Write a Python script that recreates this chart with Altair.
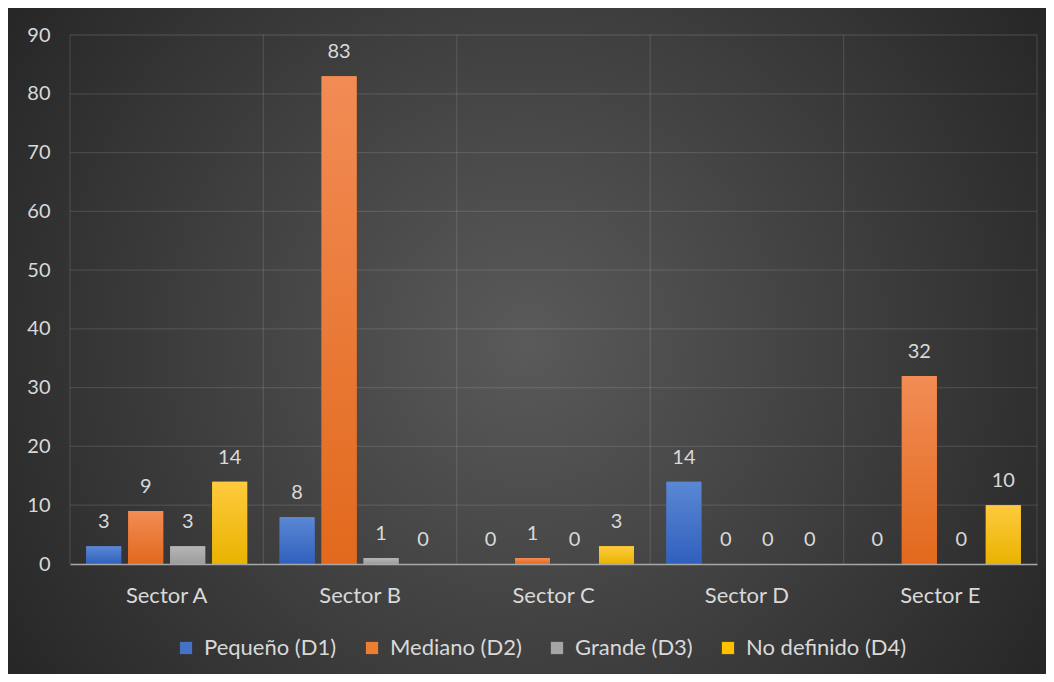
import altair as alt
import pandas as pd

categories = ["Sector A", "Sector B", "Sector C", "Sector D", "Sector E"]
series = ["Pequeño (D1)", "Mediano (D2)", "Grande (D3)", "No definido (D4)"]
d1 = [3, 8, 0, 14, 0]
d2 = [9, 83, 1, 0, 32]
d3 = [3, 1, 0, 0, 0]
d4 = [14, 0, 3, 0, 10]
y_ticks = [0, 10, 20, 30, 40, 50, 60, 70, 80, 90]

colors = ["#4472c4", "#ed7d31", "#a5a5a5", "#ffc000"]
grad_top = ["#5b88d4", "#f28c55", "#b6b6b6", "#ffca3e"]
grad_bot = ["#2f60bd", "#e2691c", "#9c9c9c", "#e9b300"]

FONT = "Lato"
TXT = "#d9d9d9"
W, H = 967, 529
L, T = 62, 27
TOTAL_W, TOTAL_H = 1038, 666

rows = []
for s, vals in zip(series, [d1, d2, d3, d4]):
    for c, v in zip(categories, vals):
        rows.append({"cat": c, "series": s, "value": v})
df = pd.DataFrame(rows)

xscale = alt.Scale(domain=categories, paddingInner=0, paddingOuter=0)
xoscale = alt.Scale(domain=series, paddingInner=0.1667, paddingOuter=0.386)
yscale = alt.Scale(domain=[0, 90], nice=False)

x_axis = alt.Axis(
    title=None, labelAngle=0, labelAlign="center", bandPosition=0.5,
    ticks=False, tickSize=0, grid=False,
    domain=True, domainColor="#a8a8a8", domainWidth=1.6,
    labelFont=FONT, labelFontSize=22, labelColor=TXT, labelPadding=31,
    labelBaseline="middle", zindex=1,
)
y_axis = alt.Axis(
    title=None, values=y_ticks, ticks=False, tickSize=0, grid=False, domain=False,
    labelFont=FONT, labelFontSize=20, labelColor=TXT, labelPadding=20, zindex=1,
)

bg_grad = {
    "gradient": "radial", "x1": 0.5, "y1": 0.5, "x2": 0.5, "y2": 0.5,
    "r1": 0, "r2": 0.6,
    "stops": [{"offset": 0, "color": "#5a5a5a"}, {"offset": 1, "color": "#262626"}],
}

background = alt.Chart(pd.DataFrame({"a": [0]})).mark_rect(fill=bg_grad).encode(
    x=alt.value(-L), x2=alt.value(TOTAL_W - L),
    y=alt.value(-T), y2=alt.value(TOTAL_H - T),
)

grid_color = "rgba(255,255,255,0.11)"
hgrid = alt.Chart(pd.DataFrame({"value": y_ticks[1:]})).mark_rule(
    color=grid_color, strokeWidth=1.3
).encode(y=alt.Y("value:Q", scale=yscale, title=None))

cat_df = pd.DataFrame({"cat": categories})
vgrid = alt.Chart(cat_df).mark_rule(color=grid_color, strokeWidth=1.3).encode(
    x=alt.X("cat:N", scale=xscale, bandPosition=0, title=None)
)
vgrid_end = alt.Chart(cat_df).transform_filter(
    alt.datum.cat == categories[-1]
).mark_rule(color=grid_color, strokeWidth=1.3).encode(
    x=alt.X("cat:N", scale=xscale, bandPosition=1, title=None)
)

base_bars = alt.Chart(df).mark_bar(strokeWidth=0).encode(
    x=alt.X("cat:N", scale=xscale, axis=x_axis, title=None),
    xOffset=alt.XOffset("series:N", scale=xoscale),
    y=alt.Y("value:Q", scale=yscale, axis=y_axis, title=None),
    color=alt.Color(
        "series:N",
        scale=alt.Scale(domain=series, range=colors),
        legend=alt.Legend(
            title=None, orient="none", legendX=105, legendY=602,
            direction="horizontal", columns=4, symbolType="square",
            symbolSize=150, symbolStrokeWidth=0, labelFont=FONT,
            labelFontSize=22, labelColor=TXT, columnPadding=24,
            labelOffset=7, labelLimit=400, padding=0,
        ),
    ),
)

overlays = []
for s, top, bot in zip(series, grad_top, grad_bot):
    g = {
        "gradient": "linear", "x1": 0, "y1": 0, "x2": 0, "y2": 1,
        "stops": [{"offset": 0, "color": top}, {"offset": 1, "color": bot}],
    }
    overlays.append(
        alt.Chart(df).transform_filter(alt.datum.series == s)
        .mark_bar(fill=g, strokeWidth=0)
        .encode(
            x=alt.X("cat:N", scale=xscale, title=None),
            xOffset=alt.XOffset("series:N", scale=xoscale),
            y=alt.Y("value:Q", scale=yscale, title=None),
        )
    )

labels = alt.Chart(df).mark_text(
    dy=-24, font=FONT, fontSize=20, color=TXT, baseline="middle"
).encode(
    x=alt.X("cat:N", scale=xscale, title=None),
    xOffset=alt.XOffset("series:N", scale=xoscale),
    y=alt.Y("value:Q", scale=yscale, title=None),
    text=alt.Text("value:Q"),
)

chart = alt.layer(
    background, hgrid, vgrid, vgrid_end, base_bars, *overlays, labels
).properties(
    width=W, height=H, padding=0
).configure_view(stroke=None).configure(font=FONT)

chart.save("out.html", embed_options={"renderer": "svg", "actions": False})
